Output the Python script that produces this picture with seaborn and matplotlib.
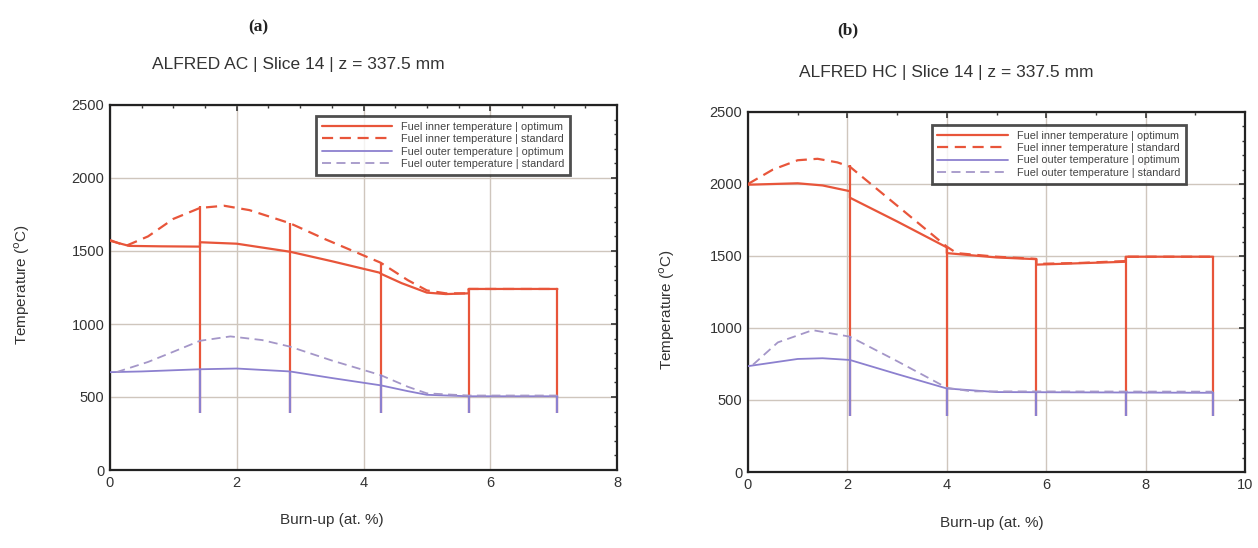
import numpy as np
import pandas as pd
import matplotlib
matplotlib.use("Agg")
import matplotlib.pyplot as plt
from matplotlib.ticker import AutoMinorLocator, MultipleLocator
import seaborn as sns

# ---------------- data ----------------
# Panel (a): ALFRED AC
a_inner_opt_x = [0, 0.3, 0.8, 1.42, 1.42, 2.0, 2.84, 3.5, 4.27, 4.27, 4.6, 5.0, 5.3, 5.66, 5.66, 7.06]
a_inner_opt_y = [1570, 1535, 1532, 1530, 1560, 1550, 1495, 1430, 1350, 1345, 1280, 1215, 1205, 1210, 1240, 1240]
a_inner_std_x = [0, 0.25, 0.6, 1.0, 1.42, 1.8, 2.2, 2.84, 3.4, 4.27, 4.7, 5.0, 5.3, 5.66, 5.66, 7.06]
a_inner_std_y = [1575, 1535, 1600, 1720, 1795, 1810, 1780, 1690, 1580, 1420, 1300, 1230, 1210, 1210, 1240, 1240]
a_outer_opt_x = [0, 0.5, 1.42, 2.0, 2.84, 3.5, 4.27, 4.7, 5.0, 5.66, 7.06]
a_outer_opt_y = [670, 675, 690, 695, 675, 630, 580, 540, 515, 505, 505]
a_outer_std_x = [0.1, 0.6, 1.0, 1.42, 1.9, 2.4, 2.84, 3.5, 4.27, 4.7, 5.0, 5.66, 7.06]
a_outer_std_y = [670, 740, 810, 885, 915, 890, 845, 750, 650, 570, 525, 510, 510]
a_cycle_ends = [1.42, 2.84, 4.27, 5.66, 7.06]
a_cycle_tops = [1810, 1690, 1420, 1240, 1240]
a_cycle_outer = [695, 675, 650, 510, 510]

# Panel (b): ALFRED HC
b_inner_opt_x = [0, 0.5, 1.0, 1.5, 2.05, 2.05, 3.0, 4.0, 4.0, 5.0, 5.8, 5.8, 6.7, 7.6, 7.6, 9.36]
b_inner_opt_y = [1995, 2000, 2005, 1990, 1950, 1905, 1740, 1560, 1520, 1490, 1478, 1440, 1450, 1460, 1495, 1495]
b_inner_std_x = [0, 0.5, 1.0, 1.4, 1.8, 2.05, 3.0, 4.0, 4.2, 5.0, 5.8, 5.8, 6.7, 7.6, 7.6, 9.36]
b_inner_std_y = [2000, 2100, 2165, 2175, 2150, 2120, 1850, 1565, 1520, 1495, 1480, 1445, 1452, 1465, 1495, 1495]
b_outer_opt_x = [0, 0.5, 1.0, 1.5, 2.05, 3.0, 4.0, 5.0, 9.36]
b_outer_opt_y = [735, 760, 785, 790, 778, 680, 580, 555, 550]
b_outer_std_x = [0.1, 0.6, 1.3, 2.05, 3.0, 4.0, 4.5, 9.36]
b_outer_std_y = [745, 900, 985, 940, 770, 585, 560, 558]
b_cycle_ends = [2.05, 4.0, 5.8, 7.6, 9.36]
b_cycle_tops = [2130, 1565, 1480, 1495, 1495]
b_cycle_outer = [940, 585, 558, 558, 558]

drop_floor = 390

series_labels = ["Fuel inner temperature | optimum",
                 "Fuel inner temperature | standard",
                 "Fuel outer temperature | optimum",
                 "Fuel outer temperature | standard"]
titles = ["ALFRED AC | Slice 14 | z = 337.5 mm", "ALFRED HC | Slice 14 | z = 337.5 mm"]
panel_tags = ["(a)", "(b)"]
x_limits = [8, 10]

# ---------------- style ----------------
sns.set_theme(style="white")
plt.rcParams["font.family"] = ["Liberation Sans", "DejaVu Sans"]

RED = "#e8553a"
PURPLE = "#8c80cf"
PURPLE_D = "#a496c8"
GRID = "#cfc6bd"

fig = plt.figure(figsize=(12.58, 5.48), dpi=100)
ax_a = fig.add_axes([110 / 1258, 1 - 470 / 548, 507 / 1258, 365 / 548])
ax_b = fig.add_axes([748 / 1258, 1 - 472 / 548, 497 / 1258, 360 / 548])

panels = [
    (ax_a, a_inner_opt_x, a_inner_opt_y, a_inner_std_x, a_inner_std_y,
     a_outer_opt_x, a_outer_opt_y, a_outer_std_x, a_outer_std_y,
     a_cycle_ends, a_cycle_tops, a_cycle_outer),
    (ax_b, b_inner_opt_x, b_inner_opt_y, b_inner_std_x, b_inner_std_y,
     b_outer_opt_x, b_outer_opt_y, b_outer_std_x, b_outer_std_y,
     b_cycle_ends, b_cycle_tops, b_cycle_outer),
]
xlabel_coords = [(0.438, -0.118), (0.49, -0.122)]
ylabel_coords = [(-0.154, 0.507), (-0.143, 0.45)]
legend_anchor = [(0.918, 0.985), (0.892, 0.98)]

for i, (ax, iox, ioy, isx, isy, oox, ooy, osx, osy, ce, ct, co) in enumerate(panels):
    ax.set_axisbelow(True)
    ax.vlines(ce, drop_floor, ct, color=RED, lw=1.6, zorder=2)
    sns.lineplot(x=iox, y=ioy, ax=ax, color=RED, lw=1.6, sort=False, estimator=None,
                 label=series_labels[0], zorder=3)
    sns.lineplot(x=isx, y=isy, ax=ax, color=RED, lw=1.6, sort=False, estimator=None,
                 label=series_labels[1], zorder=3, linestyle=(0, (5, 3)))
    sns.lineplot(x=oox, y=ooy, ax=ax, color=PURPLE, lw=1.3, sort=False, estimator=None,
                 label=series_labels[2], zorder=3)
    sns.lineplot(x=osx, y=osy, ax=ax, color=PURPLE_D, lw=1.3, sort=False, estimator=None,
                 label=series_labels[3], zorder=3, linestyle=(0, (5, 3)))
    ax.vlines(ce, drop_floor, co, color=PURPLE, lw=1.6, zorder=4)

    ax.set_xlim(0, x_limits[i])
    ax.set_ylim(0, 2500)
    ax.xaxis.set_major_locator(MultipleLocator(2))
    ax.yaxis.set_major_locator(MultipleLocator(500))
    ax.xaxis.set_minor_locator(AutoMinorLocator(4 if i == 0 else 2))
    ax.yaxis.set_minor_locator(AutoMinorLocator(5))
    ax.grid(True, which="major", color=GRID, lw=1.0)
    ax.tick_params(which="both", direction="in", top=True, right=True,
                   colors="#333333", labelsize=10.5, pad=4)
    ax.tick_params(which="major", length=4, width=1.2)
    ax.tick_params(which="minor", length=2.5, width=1.0)
    for s in ax.spines.values():
        s.set_color("#222222")
        s.set_linewidth(1.6)
    ax.set_xlabel("Burn-up (at. %)", fontsize=11, color="#333333")
    ax.set_ylabel(r"Temperature ($^{\mathrm{o}}$C)", fontsize=11, color="#333333")
    ax.xaxis.set_label_coords(*xlabel_coords[i])
    ax.yaxis.set_label_coords(*ylabel_coords[i])

    leg = ax.legend(loc="upper right", bbox_to_anchor=legend_anchor[i],
                    fontsize=7.8, frameon=True, fancybox=False, shadow=False,
                    edgecolor="#222222", handlelength=6.5, labelspacing=0.22,
                    borderpad=0.55, handletextpad=0.8)
    leg.get_frame().set_linewidth(2.0)
    for t in leg.get_texts():
        t.set_color("#444444")

fig.text(258 / 1258, 1 - 27 / 548, panel_tags[0], ha="center", va="center",
         fontsize=12.5, fontweight="bold", family="Liberation Serif", color="#222222")
fig.text(848 / 1258, 1 - 30 / 548, panel_tags[1], ha="center", va="center",
         fontsize=12.5, fontweight="bold", family="Liberation Serif", color="#222222")
fig.text(298 / 1258, 1 - 64 / 548, titles[0], ha="center", va="center",
         fontsize=12.5, color="#333333")
fig.text(946 / 1258, 1 - 73 / 548, titles[1], ha="center", va="center",
         fontsize=12.5, color="#333333")

fig.savefig("out.png", dpi=100)
